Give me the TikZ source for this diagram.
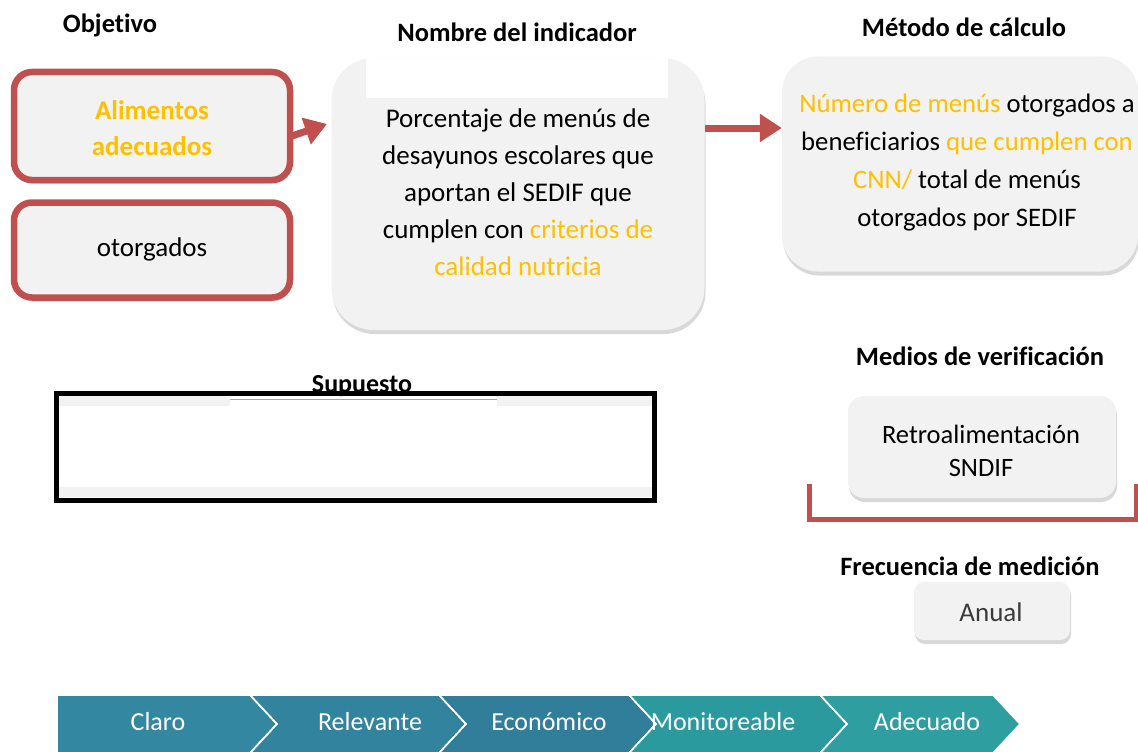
\documentclass[tikz,border=0pt]{standalone}
\usepackage{fontspec}
\setmainfont{Carlito}[Ligatures=NoCommon]
\usetikzlibrary{shadows,arrows.meta}
\definecolor{boxgray}{HTML}{F2F2F2}
\definecolor{redc}{HTML}{C0504D}
\definecolor{orc}{HTML}{FFC000}
\definecolor{chA}{HTML}{3487A0}
\definecolor{chB}{HTML}{32839D}
\definecolor{chC}{HTML}{307E99}
\definecolor{chD}{HTML}{2A9A9E}
\definecolor{chE}{HTML}{2E9EA1}
\definecolor{anualtxt}{HTML}{3A3A3A}
\begin{document}
\begin{tikzpicture}[x=1pt,y=-1pt,
  heading/.style={font=\bfseries\fontsize{26.5}{30}\selectfont, inner sep=0pt},
  bodytxt/.style={font=\fontsize{27}{37}\selectfont, align=center, inner sep=0pt},
  softshadow/.style={drop shadow={shadow xshift=1pt, shadow yshift=-4pt, opacity=0.22, fill=black!70}},
  redbox/.style={draw=redc, line width=6.5pt, fill=boxgray, rounded corners=18pt, softshadow},
  graybox/.style={fill=boxgray, softshadow},
  redarrow/.style={draw=redc, line width=7pt, -{Triangle[length=22pt,width=27pt]}},
  redline/.style={draw=redc, line width=5pt},
  chev/.style={draw=white, line width=1.5pt},
  chevtxt/.style={font=\fontsize{26}{29}\selectfont, text=white, inner sep=0pt}
]
\useasboundingbox (0,0) rectangle (1138,752);

% headings
\node[heading] (hobj) at (110,25) {Objetivo};
\node[heading] (hnom) at (517,32) {Nombre del indicador};
\node[heading] (hmet) at (964,27) {Método de cálculo};
\node[heading] (hmed) at (980,356) {Medios de verificación};
\node[heading] (hfre) at (970,566) {Frecuencia de medición};

% objective boxes
\node[redbox, minimum width=276pt, minimum height=108pt] (b1) at (152,126) {};
\node[bodytxt, font=\bfseries\fontsize{27}{36}\selectfont, text=orc] (b1t) at (152,128) {Alimentos\\adecuados};
\node[redbox, minimum width=276pt, minimum height=95pt] (b2) at (152,250) {};
\node[bodytxt] (b2t) at (152,249) {otorgados};

% indicator box
\node[graybox, rounded corners=42pt, minimum width=373pt, minimum height=272pt] (ind) at (518,194) {};
\fill[white] (366,58) rectangle (668,98);
\node[bodytxt] (indt) at (518,192) {Porcentaje de menús de\\desayunos escolares que\\aportan el SEDIF que\\cumplen con \textcolor{orc}{criterios de}\\\textcolor{orc}{calidad nutricia}};

% metodo box
\node[graybox, rounded corners=36pt, minimum width=356pt, minimum height=215pt] (met) at (960,164) {};
\node[bodytxt, font=\fontsize{26.7}{38}\selectfont] (mett) at (967,163) {\textcolor{orc}{Número de menús} otorgados a\\beneficiarios \textcolor{orc}{que cumplen con}\\\textcolor{orc}{CNN/} total de menús\\otorgados por SEDIF};

% arrows
\coordinate (a1s) at (289,137);
\coordinate (a1e) at (327,124);
\draw[redarrow] (a1s) -- (a1e);
\coordinate (a2s) at (705,128);
\draw[redarrow] (a2s) -- (met.west |- a2s);

% medios
\coordinate (brA) at (809,484);
\coordinate (brB) at (1136,519);
\coordinate (brC) at (1136,484);
\draw[redline] (brA) |- (brB) -- (brC);
\node[graybox, rounded corners=16pt, minimum width=268pt, minimum height=102pt] (ret) at (982,447) {};
\node[bodytxt, font=\fontsize{26.5}{33}\selectfont] (rett) at (981,451) {Retroalimentación\\SNDIF};

% frecuencia
\node[graybox, rounded corners=10pt, minimum width=156pt, minimum height=58pt] (anu) at (992,611) {};
\node[bodytxt, text=anualtxt] (anut) at (991,612) {Anual};

% supuesto
\fill[boxgray] (58,396) rectangle (652,497);
\fill[white] (58,406) rectangle (652,487);
\fill[white] (230,396) rectangle (497,406);
\draw[black!35, line width=1.2pt] (230,399.5) -- (497,399.5);
\node[heading, font=\bfseries\fontsize{26}{30}\selectfont, anchor=base] (supt) at (362,392) {Supuesto};
\node[draw=black, line width=5pt, minimum width=598pt, minimum height=107pt, inner sep=0pt] (sup) at (355,446.5) {};

% chevrons
\fill[chev, fill=chA] (57,695) -- (250,695) -- (277,724) -- (250,753) -- (57,753) -- cycle;
\fill[chev, fill=chB] (250,695) -- (439,695) -- (466,724) -- (439,753) -- (250,753) -- (277,724) -- cycle;
\fill[chev, fill=chC] (439,695) -- (629,695) -- (656,724) -- (629,753) -- (439,753) -- (466,724) -- cycle;
\fill[chev, fill=chD] (629,695) -- (820,695) -- (847,724) -- (820,753) -- (629,753) -- (656,724) -- cycle;
\fill[chev, fill=chE] (820,695) -- (993,695) -- (1020,724) -- (993,753) -- (820,753) -- (847,724) -- cycle;
\draw[chev] (250,695) -- (277,724) -- (250,753);
\draw[chev] (439,695) -- (466,724) -- (439,753);
\draw[chev] (629,695) -- (656,724) -- (629,753);
\draw[chev] (820,695) -- (847,724) -- (820,753);
\node[chevtxt] (c1) at (158,722) {Claro};
\node[chevtxt] (c2) at (370,722) {Relevante};
\node[chevtxt] (c3) at (549,722) {Económico};
\node[chevtxt] (c4) at (723,722) {Monitoreable};
\node[chevtxt] (c5) at (927,722) {Adecuado};
\end{tikzpicture}
\end{document}
